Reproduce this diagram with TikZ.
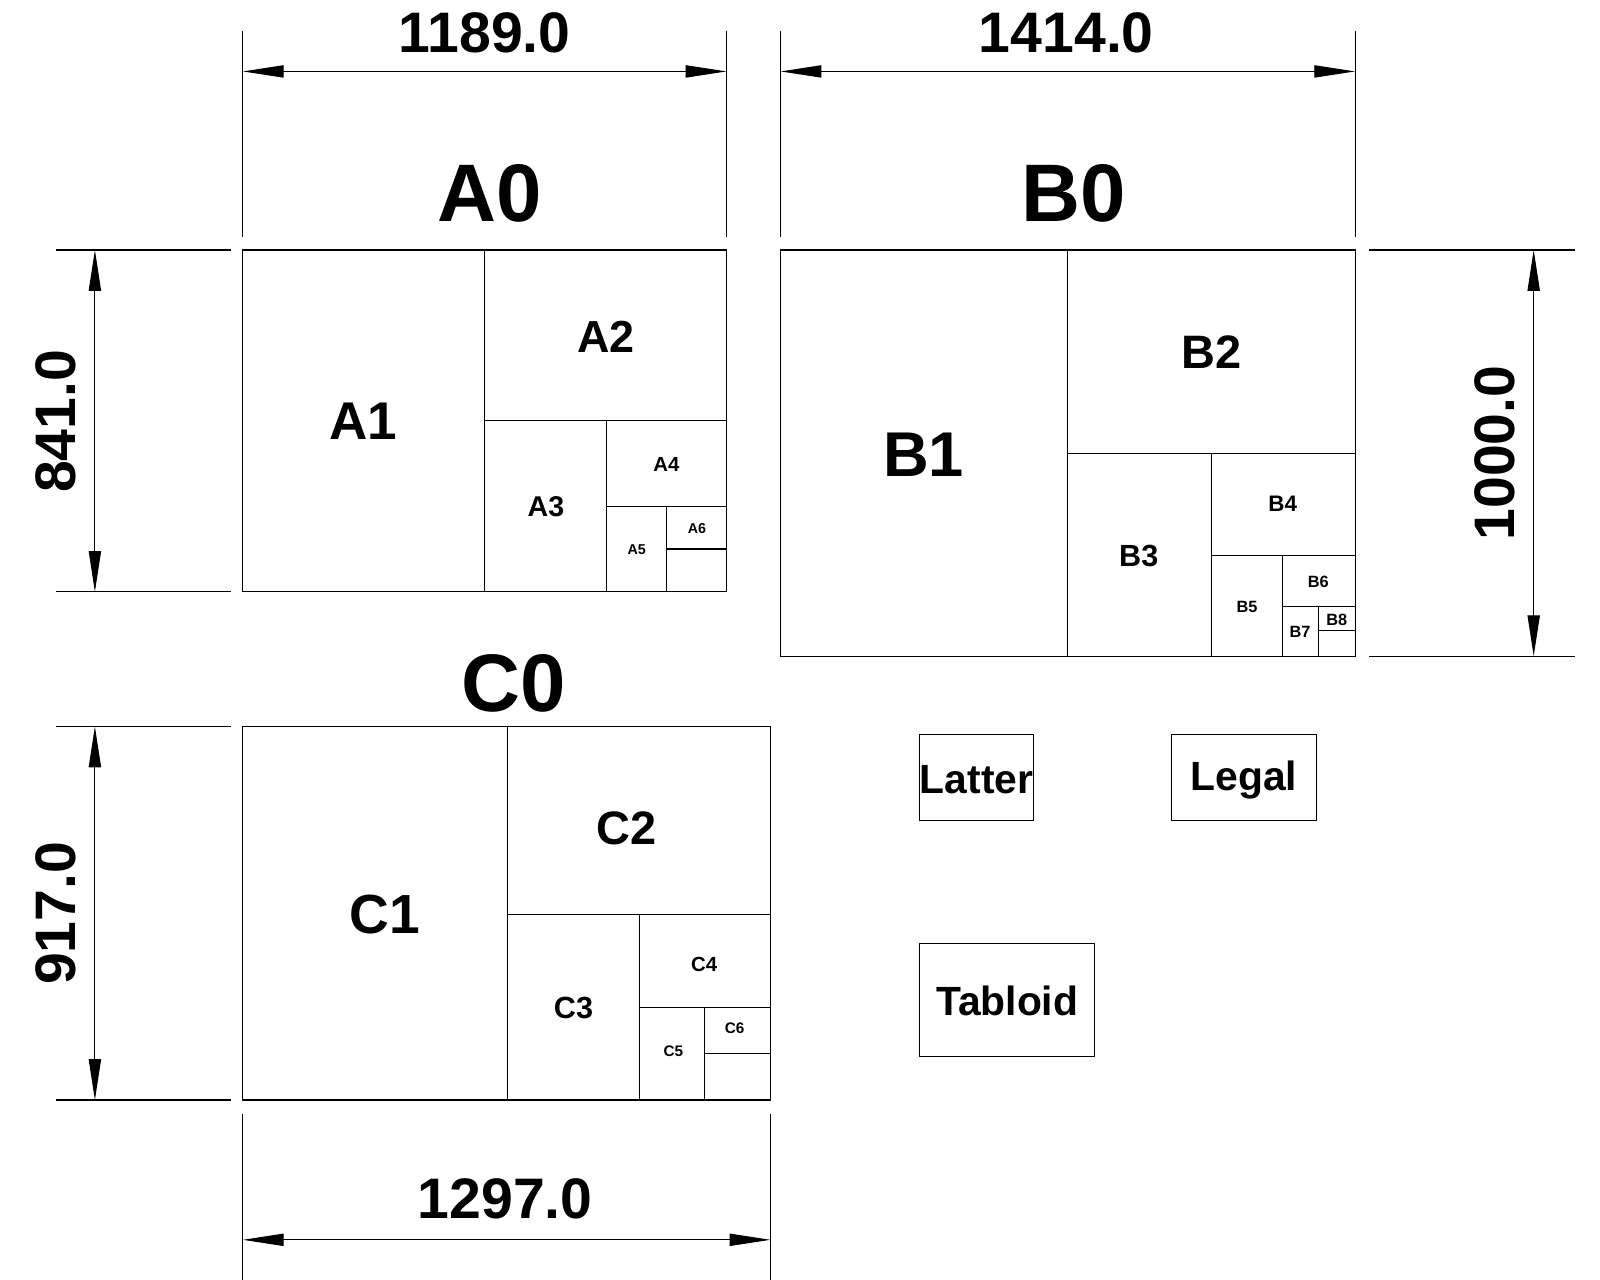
\documentclass[tikz,border=0pt]{standalone}
\usepackage{fontspec}
\setmainfont{Liberation Sans}
\usetikzlibrary{arrows.meta}
\newcommand{\fsz}[1]{\fontsize{#1}{#1}\selectfont\bfseries}
\begin{document}
\begin{tikzpicture}[x=1pt,y=-1pt,line width=1.1pt,
  dimarrow/.style={{Triangle[length=40pt,width=12pt]}-{Triangle[length=40pt,width=12pt]},line width=1.1pt},
  lbl/.style={inner sep=0pt,anchor=center}]
\useasboundingbox (0,0) rectangle (1568,1254);
% A0
\draw (238,245) rectangle (712,580);
\draw (475,245)--(475,580) (475,412)--(712,412) (594,412)--(594,580) (594,496)--(712,496) (653,496)--(653,580) (653,538)--(712,538);
\node[lbl] (a1) at (356,413) {\fsz{52}A1};
\node[lbl] (a2) at (594,330) {\fsz{44}A2};
\node[lbl] (a3) at (535,497) {\fsz{28}A3};
\node[lbl] (a4) at (653,455) {\fsz{20}A4};
\node[lbl] (a5) at (624,539) {\fsz{14}A5};
\node[lbl] (a6) at (683,518) {\fsz{14}A6};
\node[lbl] (a0) at (480,190) {\fsz{80}A0};
\draw (238,30)--(238,232) (712,30)--(712,232);
\coordinate (at1) at (238,70); \coordinate (at2) at (712,70);
\draw[dimarrow] (at1)--(at2);
\node[lbl] (d1) at (475,32) {\fsz{56}1189.0};
\draw (55,245)--(226,245) (55,580)--(226,580);
\coordinate (al1) at (93,245); \coordinate (al2) at (93,580);
\draw[dimarrow] (al1)--(al2);
\node[lbl,rotate=90] (d2) at (55,413) {\fsz{56}841.0};
% B0
\draw (765,245) rectangle (1328,643);
\draw (1046,245)--(1046,643) (1046,444)--(1328,444) (1187,444)--(1187,643) (1187,544)--(1328,544) (1257,544)--(1257,643) (1257,594)--(1328,594) (1292,594)--(1292,643) (1292,618)--(1328,618);
\node[lbl] (b1) at (905,446) {\fsz{62}B1};
\node[lbl] (b2) at (1187,345) {\fsz{46}B2};
\node[lbl] (b3) at (1116,545) {\fsz{30}B3};
\node[lbl] (b4) at (1257,494) {\fsz{22}B4};
\node[lbl] (b5) at (1222,595) {\fsz{16}B5};
\node[lbl] (b6) at (1292,570) {\fsz{16}B6};
\node[lbl] (b7) at (1274,619) {\fsz{16}B7};
\node[lbl] (b8) at (1310,607) {\fsz{16}B8};
\node[lbl] (b0) at (1052,190) {\fsz{80}B0};
\draw (765,30)--(765,232) (1328,30)--(1328,232);
\coordinate (bt1) at (765,70); \coordinate (bt2) at (1328,70);
\draw[dimarrow] (bt1)--(bt2);
\node[lbl] (d3) at (1045,32) {\fsz{56}1414.0};
\draw (1342,245)--(1543,245) (1342,643)--(1543,643);
\coordinate (br1) at (1503,245); \coordinate (br2) at (1503,643);
\draw[dimarrow] (br1)--(br2);
\node[lbl,rotate=90] (d4) at (1465,444) {\fsz{56}1000.0};
% C0
\draw (238,712) rectangle (755,1078);
\draw (497,712)--(497,1078) (497,896)--(755,896) (627,896)--(627,1078) (627,987)--(755,987) (690,987)--(690,1078) (690,1032)--(755,1032);
\node[lbl] (c1) at (377,896) {\fsz{54}C1};
\node[lbl] (c2) at (614,812) {\fsz{46}C2};
\node[lbl] (c3) at (562,988) {\fsz{30}C3};
\node[lbl] (c4) at (690,945) {\fsz{20}C4};
\node[lbl] (c5) at (660,1030) {\fsz{15}C5};
\node[lbl] (c6) at (720,1008) {\fsz{15}C6};
\node[lbl] (c0) at (503,670) {\fsz{80}C0};
\draw (55,712)--(226,712) (55,1078)--(226,1078);
\coordinate (cl1) at (93,712); \coordinate (cl2) at (93,1078);
\draw[dimarrow] (cl1)--(cl2);
\node[lbl,rotate=90] (d5) at (55,895) {\fsz{56}917.0};
\draw (238,1092)--(238,1255) (755,1092)--(755,1255);
\coordinate (cb1) at (238,1215); \coordinate (cb2) at (755,1215);
\draw[dimarrow] (cb1)--(cb2);
\node[lbl] (d6) at (495,1175) {\fsz{56}1297.0};
% other sizes
\draw (901,720) rectangle (1013,804);
\node[lbl] (lat) at (957,764) {\fsz{40}Latter};
\draw (1148,720) rectangle (1290,804);
\node[lbl] (leg) at (1219,764) {\fsz{40}Legal};
\draw (901,925) rectangle (1073,1035);
\node[lbl] (tab) at (987,981) {\fsz{40}Tabloid};
\end{tikzpicture}
\end{document}
